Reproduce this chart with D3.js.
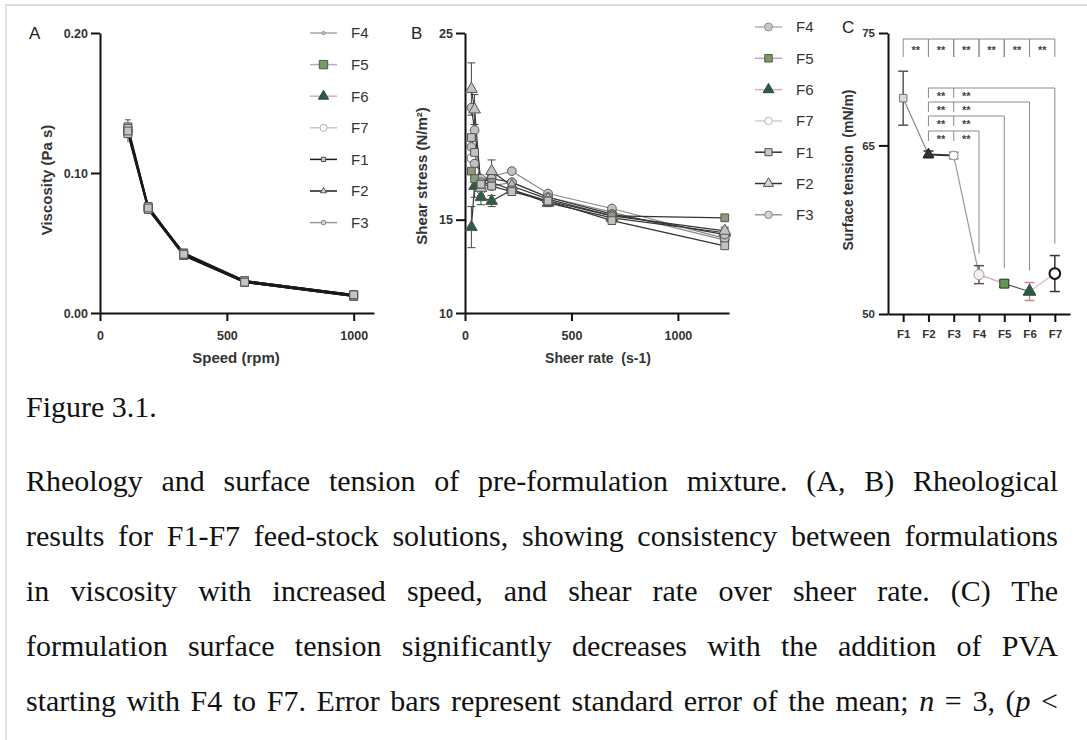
<!DOCTYPE html>
<html>
<head>
<meta charset="utf-8">
<script src="https://cdn.jsdelivr.net/npm/d3@7"></script>
<style>
  body { margin: 0; background: #fff; }
  #page { position: relative; width: 1087px; height: 740px; overflow: hidden; background: #fff; }
  #topline { position: absolute; left: 6px; top: 4px; width: 1081px; height: 2px; background: #dedede; }
  #leftline { position: absolute; left: 5px; top: 4px; width: 2px; height: 736px; background: #e2e2e2; }
  #fig { position: absolute; left: 0; top: 0; }
  .cap { position: absolute; left: 26px; width: 1032px; font-family: "Liberation Serif", "Times New Roman", serif;
         font-size: 30px; line-height: 55px; color: #111; text-align: justify; text-align-last: justify; }
  .cap.first { text-align-last: left; }
</style>
</head>
<body>
<div id="page">
  <div id="topline"></div>
  <div id="leftline"></div>
  <svg id="fig" width="1087" height="372"></svg>
  <div class="cap first" style="top:379px">Figure 3.1.</div>
  <div class="cap" style="top:453px">Rheology and surface tension of pre-formulation mixture. (A, B) Rheological</div>
  <div class="cap" style="top:508px">results for F1-F7 feed-stock solutions, showing consistency between formulations</div>
  <div class="cap" style="top:563px">in viscosity with increased speed, and shear rate over sheer rate. (C) The</div>
  <div class="cap" style="top:618px">formulation surface tension significantly decreases with the addition of PVA</div>
  <div class="cap" style="top:673px">starting with F4 to F7. Error bars represent standard error of the mean; <i>n</i> = 3, (<i>p</i> &lt;</div>
</div>
<script>
// formulations and legend order
var formulations = ["F1", "F2", "F3", "F4", "F5", "F6", "F7"];
var legendOrder = ["F4", "F5", "F6", "F7", "F1", "F2", "F3"];

// A : viscosity (Pa s) vs speed (rpm)
var speed = [110, 190, 330, 570, 1000];
var viscF1 = [0.130, 0.075, 0.042, 0.022, 0.013];
var viscF2 = [0.132, 0.076, 0.042, 0.023, 0.013];
var viscF3 = [0.128, 0.074, 0.041, 0.022, 0.012];
var viscF4 = [0.131, 0.075, 0.043, 0.023, 0.013];
var viscF5 = [0.129, 0.074, 0.042, 0.022, 0.012];
var viscF6 = [0.133, 0.076, 0.042, 0.023, 0.013];
var viscF7 = [0.130, 0.075, 0.041, 0.022, 0.012];
var viscErr = [0.008, 0.002, 0.001, 0.001, 0.001];

// B : shear stress (N/m2) vs shear rate (s-1)
var shearRate = [30, 45, 75, 125, 220, 390, 690, 1220];
var stressF1 = [19.4, 18.6, 16.9, 16.8, 16.5, 16.0, 14.95, 13.6];
var stressF2 = [22.0, 20.9, 16.7, 17.6, 16.8, 16.1, 15.2, 14.4];
var stressF3 = [21.0, 19.8, 17.0, 17.2, 17.0, 16.2, 15.3, 14.2];
var stressF4 = [18.9, 18.0, 17.2, 17.3, 17.6, 16.4, 15.6, 14.0];
var stressF5 = [17.6, 17.2, 16.9, 17.0, 16.6, 16.0, 15.2, 15.1];
var stressF6 = [14.6, 16.8, 16.2, 16.0, 16.6, 15.9, 15.1, 14.3];
var stressF7 = [18.3, 17.6, 16.6, 16.8, 17.0, 16.2, 15.4, 13.9];
var stressErrF2 = [1.4, 0.8, 0.4, 0.6, 0.3, 0.2, 0.2, 0.2];
var stressErrF6 = [1.1, 0.6, 0.4, 0.3, 0.2, 0.2, 0.2, 0.2];

// C : surface tension (mN/m)
var tensionMean = [69.2, 64.2, 64.1, 53.5, 52.7, 52.0, 53.6];
var tensionErr = [2.4, 0.3, 0.3, 0.8, 0.3, 0.8, 1.6];
var sigPairs = [["F1", "F2"], ["F2", "F3"], ["F3", "F4"], ["F4", "F5"], ["F5", "F6"], ["F6", "F7"]];
var sigTargets = ["F7", "F6", "F5", "F4"];   // each compared with F2 and F3

var viscosity = {F1: viscF1, F2: viscF2, F3: viscF3, F4: viscF4, F5: viscF5, F6: viscF6, F7: viscF7};
var stress = {F1: stressF1, F2: stressF2, F3: stressF3, F4: stressF4, F5: stressF5, F6: stressF6, F7: stressF7};
var stressErr = {F2: stressErrF2, F6: stressErrF6};

var style = {
    F1: {shape: "square",   fill: "#c9c9c9", stroke: "#4a4a4a"},
    F2: {shape: "triangle", fill: "#d4d4d4", stroke: "#555555"},
    F3: {shape: "circle",   fill: "#d6d6d6", stroke: "#808080"},
    F4: {shape: "circle",   fill: "#c8c6cc", stroke: "#8e8c94"},
    F5: {shape: "square",   fill: "#7b9a60", stroke: "#4e5b45"},
    F6: {shape: "triangle", fill: "#2c5c42", stroke: "#24483a"},
    F7: {shape: "circle",   fill: "#ffffff", stroke: "#b4b4b4"}
};
var sans = "'Liberation Sans', Arial, sans-serif";

function symbolPath(shape, size) {
    var t = shape === "square" ? d3.symbolSquare : shape === "triangle" ? d3.symbolTriangle : d3.symbolCircle;
    return d3.symbol().type(t).size(size)();
}

function styleAxis(g, fs) {
    g.attr("font-size", null).attr("font-family", null);
    g.select(".domain").attr("stroke", "#111").attr("stroke-width", 2);
    g.selectAll(".tick line").attr("stroke", "#111").attr("stroke-width", 2);
    g.selectAll(".tick text").attr("fill", "#333").style("font-size", fs + "px")
        .style("font-weight", "bold").style("font-family", sans);
}

function drawLegend(g, x0, y0, dy, sizes, lines) {
    legendOrder.forEach(function (name, i) {
        var y = y0 + i * dy;
        var s = style[name];
        g.append("line").attr("x1", x0).attr("x2", x0 + 27).attr("y1", y).attr("y2", y)
            .attr("stroke", lines[name]).attr("stroke-width", 1.5);
        g.append("path").attr("d", symbolPath(s.shape, sizes[name]))
            .attr("transform", "translate(" + (x0 + 13.5) + "," + y + ")")
            .attr("fill", s.fill).attr("stroke", s.stroke).attr("stroke-width", 1);
        g.append("text").attr("x", x0 + 41).attr("y", y).attr("dy", "0.36em")
            .style("font-family", sans).style("font-size", "15px").attr("fill", "#333").text(name);
    });
}

function axisTitle(svg, x, y, rot, txt, fs) {
    var t = svg.append("text").attr("transform", "translate(" + x + "," + y + ")" + (rot ? " rotate(-90)" : ""))
        .attr("text-anchor", "middle").attr("dy", "0.36em")
        .style("font-family", sans).style("font-size", fs + "px").style("font-weight", "bold")
        .style("white-space", "pre").attr("fill", "#333");
    return t.text(txt);
}

function panelLabel(x, y, txt) {
    svg.append("text").attr("x", x).attr("y", y).attr("dy", "0.36em").style("font-family", sans)
        .style("font-size", "17px").attr("fill", "#222").text(txt);
}

var svg = d3.select("#fig");

// ---------- panel A ----------
var xA = d3.scaleLinear().domain([0, 1080]).range([100, 374]);
var yA = d3.scaleLinear().domain([0, 0.2]).range([313, 33]);
var gA = svg.append("g");

gA.append("g").attr("transform", "translate(0,313)")
    .call(d3.axisBottom(xA).tickValues([0, 500, 1000]).tickFormat(d3.format("d")).tickSize(8).tickPadding(10).tickSizeOuter(0))
    .call(styleAxis, 12.5);
gA.append("g").attr("transform", "translate(100,0)")
    .call(d3.axisLeft(yA).tickValues([0, 0.1, 0.2]).tickFormat(d3.format(".2f")).tickSize(9).tickPadding(3).tickSizeOuter(0))
    .call(styleAxis, 12.5);

var lineA = d3.line().x(function (d) { return xA(d[0]); }).y(function (d) { return yA(d[1]); });
var orderA = ["F4", "F5", "F6", "F7", "F3", "F2", "F1"];
orderA.forEach(function (name) {
    var pts = speed.map(function (s, i) { return [s, viscosity[name][i]]; });
    gA.append("path").datum(pts).attr("d", lineA).attr("fill", "none")
        .attr("stroke", "#1a1a1a").attr("stroke-width", 1.6);
});
// error bars (F1 series)
speed.forEach(function (s, i) {
    var m = viscF1[i];
    gA.append("line").attr("x1", xA(s)).attr("x2", xA(s)).attr("y1", yA(m - viscErr[i])).attr("y2", yA(m + viscErr[i]))
        .attr("stroke", "#555").attr("stroke-width", 1);
    gA.append("line").attr("x1", xA(s) - 3).attr("x2", xA(s) + 3).attr("y1", yA(m + viscErr[i])).attr("y2", yA(m + viscErr[i]))
        .attr("stroke", "#555").attr("stroke-width", 1);
});
orderA.forEach(function (name) {
    gA.selectAll(null).data(speed).enter().append("path")
        .attr("d", symbolPath("square", 60))
        .attr("transform", function (d, i) { return "translate(" + xA(d) + "," + yA(viscosity[name][i]) + ")"; })
        .attr("fill", name === "F5" ? "#a4ad98" : "#c4c4c4").attr("stroke", "#555").attr("stroke-width", 1);
});
axisTitle(svg, 47, 180, true, "Viscosity (Pa s)", 15);
axisTitle(svg, 236, 358, false, "Speed (rpm)", 15);
panelLabel(29, 33, "A");

drawLegend(svg.append("g"), 310, 33, 31.6,
    {F4: 8, F5: 70, F6: 45, F7: 40, F1: 18, F2: 16, F3: 16},
    {F4: "#aaa6b4", F5: "#c2a2d2", F6: "#e2aab8", F7: "#c8c8c8", F1: "#1e1e1e", F2: "#1e1e1e", F3: "#999"});

// ---------- panel B ----------
var xB = d3.scaleLinear().domain([0, 1240]).range([465, 729]);
var yB = d3.scaleLinear().domain([10, 25]).range([313, 33]);
var gB = svg.append("g");

gB.append("g").attr("transform", "translate(0,313)")
    .call(d3.axisBottom(xB).tickValues([0, 500, 1000]).tickFormat(d3.format("d")).tickSize(8).tickPadding(10).tickSizeOuter(0))
    .call(styleAxis, 12.5);
gB.append("g").attr("transform", "translate(465,0)")
    .call(d3.axisLeft(yB).tickValues([10, 15, 25]).tickSize(9).tickPadding(3).tickSizeOuter(0))
    .call(styleAxis, 12.5);

var lineB = d3.line().x(function (d) { return xB(d[0]); }).y(function (d) { return yB(d[1]); });
var orderB = ["F7", "F6", "F4", "F3", "F2", "F5", "F1"];
orderB.forEach(function (name) {
    var pts = shearRate.map(function (r, i) { return [r, stress[name][i]]; });
    gB.append("path").datum(pts).attr("d", lineB).attr("fill", "none")
        .attr("stroke", name === "F7" || name === "F4" ? "#8a8a8a" : "#333").attr("stroke-width", 1.2);
});
Object.keys(stressErr).forEach(function (name) {
    shearRate.forEach(function (r, i) {
        var m = stress[name][i], e = stressErr[name][i];
        gB.append("line").attr("x1", xB(r)).attr("x2", xB(r)).attr("y1", yB(m - e)).attr("y2", yB(m + e))
            .attr("stroke", "#444").attr("stroke-width", 1);
        [m - e, m + e].forEach(function (v) {
            gB.append("line").attr("x1", xB(r) - 4).attr("x2", xB(r) + 4).attr("y1", yB(v)).attr("y2", yB(v))
                .attr("stroke", "#444").attr("stroke-width", 1);
        });
    });
});
orderB.forEach(function (name) {
    var s = style[name];
    gB.selectAll(null).data(shearRate).enter().append("path")
        .attr("d", symbolPath(s.shape, 60))
        .attr("transform", function (d, i) { return "translate(" + xB(d) + "," + yB(stress[name][i]) + ")"; })
        .attr("fill", name === "F7" ? "#fff" : name === "F6" ? "#2c5c42" : name === "F5" ? "#8d9a7e" : "#c2c2c2")
        .attr("stroke", "#555").attr("stroke-width", 1);
});
axisTitle(svg, 422, 176, true, "Shear stress (N/m²)", 15);
axisTitle(svg, 598, 358, false, "Sheer rate  (s-1)", 14);
panelLabel(411, 33, "B");

drawLegend(svg.append("g"), 755, 27, 31.3,
    {F4: 50, F5: 56, F6: 50, F7: 44, F1: 50, F2: 44, F3: 44},
    {F4: "#b4b0c0", F5: "#c2a2d2", F6: "#e2aab8", F7: "#cfcfcf", F1: "#333", F2: "#333", F3: "#999"});

// ---------- panel C ----------
var xC = d3.scalePoint().domain(formulations).range([888, 1070]).padding(0.6);
var yC = d3.scaleLinear().domain([50, 75]).range([314, 33]);
var gC = svg.append("g");

gC.append("g").attr("transform", "translate(0,314)")
    .call(d3.axisBottom(xC).tickSize(8).tickPadding(8).tickSizeOuter(0))
    .call(styleAxis, 11.5);
gC.append("g").attr("transform", "translate(888,0)")
    .call(d3.axisLeft(yC).tickValues([50, 65, 75]).tickSize(9).tickPadding(4).tickSizeOuter(0))
    .call(styleAxis, 11.5);

// significance brackets
var sigColor = "#8a8a8a";
function stars(x, y) {
    gC.append("text").attr("x", x).attr("y", y).attr("text-anchor", "middle")
        .style("font-family", sans).style("font-size", "11px").style("font-weight", "bold")
        .attr("fill", "#444").text("**");
}
sigPairs.forEach(function (p) {
    var x1 = xC(p[0]), x2 = xC(p[1]);
    gC.append("path").attr("d", "M" + x1 + ",57V39H" + x2 + "V57")
        .attr("fill", "none").attr("stroke", sigColor).attr("stroke-width", 1);
    stars((x1 + x2) / 2, 54);
});
var rowY = [88, 102, 116, 131];
sigTargets.forEach(function (t, i) {
    var y = rowY[i], xa = xC("F2"), xb = xC("F3"), xt = xC(t);
    var k = formulations.indexOf(t);
    var yEnd = yC(tensionMean[k] + tensionErr[k]) - 12;
    gC.append("path").attr("d", "M" + xa + "," + (y + 10) + "V" + y + "H" + xt + "V" + yEnd)
        .attr("fill", "none").attr("stroke", sigColor).attr("stroke-width", 1);
    gC.append("path").attr("d", "M" + xb + "," + y + "V" + (y + 10))
        .attr("fill", "none").attr("stroke", sigColor).attr("stroke-width", 1);
    stars((xa + xb) / 2, y + 12);
    stars((xb + xC("F4")) / 2, y + 12);
});

// connecting segments
var segColors = ["#8a8a8a", "#333", "#9a9a9a", "#d9a3b5", "#4a5a4a", "#e2b3c2"];
for (var i = 0; i < formulations.length - 1; i++) {
    gC.append("line").attr("x1", xC(formulations[i])).attr("y1", yC(tensionMean[i]))
        .attr("x2", xC(formulations[i + 1])).attr("y2", yC(tensionMean[i + 1]))
        .attr("stroke", segColors[i]).attr("stroke-width", i === 1 ? 2 : 1.2);
}
var cMarks = {
    F1: {shape: "square", fill: "#d8d8d8", stroke: "#777", size: 56, bar: "#555"},
    F2: {shape: "triangle", fill: "#333", stroke: "#222", size: 50, bar: "#333"},
    F3: {shape: "circle", fill: "#fff", stroke: "#888", size: 60, bar: "#888"},
    F4: {shape: "circle", fill: "#f2f2f2", stroke: "#999", size: 80, bar: "#555"},
    F5: {shape: "square", fill: "#5f9a4e", stroke: "#333", size: 80, bar: "#333"},
    F6: {shape: "triangle", fill: "#2c5c42", stroke: "#24483a", size: 70, bar: "#c98a9a"},
    F7: {shape: "circle", fill: "#fff", stroke: "#111", size: 90, bar: "#333"}
};
formulations.forEach(function (name, i) {
    var c = cMarks[name], x = xC(name), lo = tensionMean[i] - tensionErr[i], hi = tensionMean[i] + tensionErr[i];
    gC.append("line").attr("x1", x).attr("x2", x).attr("y1", yC(lo)).attr("y2", yC(hi))
        .attr("stroke", c.bar).attr("stroke-width", 1.5);
    [lo, hi].forEach(function (v) {
        gC.append("line").attr("x1", x - 5).attr("x2", x + 5).attr("y1", yC(v)).attr("y2", yC(v))
            .attr("stroke", c.bar).attr("stroke-width", 1.5);
    });
    gC.append("path").attr("d", symbolPath(c.shape, c.size))
        .attr("transform", "translate(" + x + "," + yC(tensionMean[i]) + ")")
        .attr("fill", c.fill).attr("stroke", c.stroke).attr("stroke-width", name === "F7" ? 2 : 1);
});
axisTitle(svg, 848, 170, true, "Surface tension  (mN/m)", 14);
panelLabel(842, 27, "C");
</script>
</body>
</html>
